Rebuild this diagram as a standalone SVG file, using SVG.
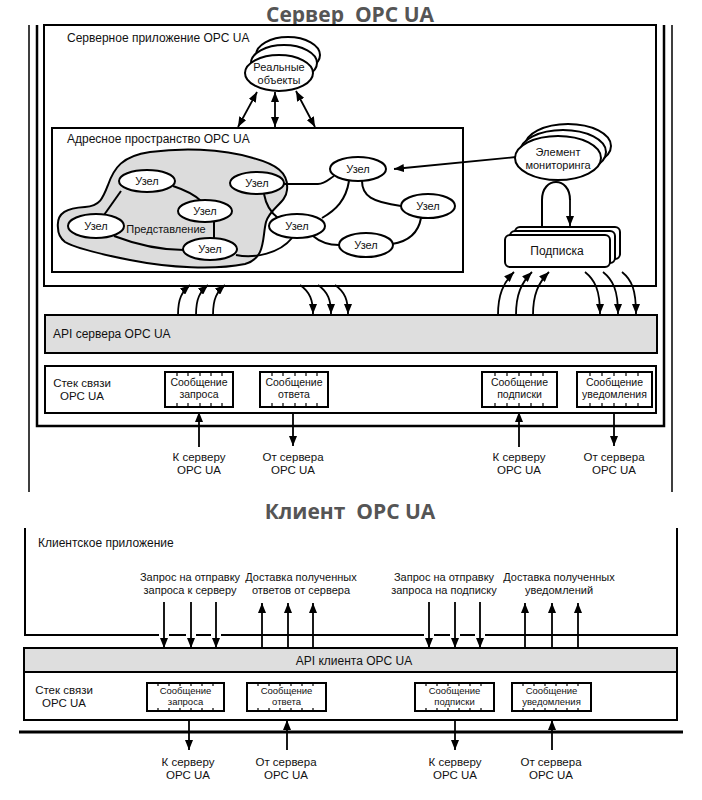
<svg xmlns="http://www.w3.org/2000/svg" width="702" height="800" viewBox="0 0 702 800">
<defs>
<marker id="ah" viewBox="0 0 10 8" refX="10" refY="4" markerWidth="10" markerHeight="8" orient="auto-start-reverse" markerUnits="userSpaceOnUse"><path d="M0,0 L10,4 L0,8 z" fill="#000"/></marker>
<style>
text{font-family:"Liberation Sans",Arial,sans-serif;fill:#111}
.title{font-family:"Open Sans","DejaVu Sans",sans-serif;font-weight:700;font-size:21px;fill:#555;white-space:pre}
.lbl{font-size:12px}
.lb2{font-size:11.5px}
.sm{font-size:11px}
.ms{font-size:10.5px}
.xs{font-size:9.5px}
.c{text-anchor:middle}
.box{fill:#fff;stroke:#000;stroke-width:2}
.gray{fill:#dedede;stroke:#000;stroke-width:2}
.node{fill:#fff;stroke:#000;stroke-width:2}
.ln{fill:none;stroke:#000;stroke-width:2}
.thin{fill:none;stroke:#000;stroke-width:1.5}
.arr{fill:none;stroke:#000;stroke-width:1.8;marker-end:url(#ah)}
.darr{fill:none;stroke:#000;stroke-width:1.8;marker-end:url(#ah);marker-start:url(#ah)}
.tick{fill:none;stroke:#000;stroke-width:1.2}
</style>
</defs>
<rect x="0" y="0" width="702" height="800" fill="#fff"/>

<!-- Titles -->
<text class="title c" x="350" y="22">Сервер  OPC UA</text>
<text class="title c" x="350" y="519">Клиент  OPC UA</text>

<!-- Server frame -->
<g id="server-frame">
<path class="thin" d="M29,25 V492 M672,25 V492"/>
<path d="M37,25 V426 H664 V25" fill="none" stroke="#000" stroke-width="2.5"/>
</g>

<g id="server-app">
<rect class="box" x="44" y="25" width="612" height="261"/>
<text class="lbl" x="67" y="42">Серверное приложение OPC UA</text>
</g>

<g id="address-space">
<rect class="box" x="52" y="128" width="411" height="144"/>
<text class="lbl" x="67" y="143">Адресное пространство OPC UA</text>
</g>

<g id="view">
<path d="M58,228 C56,212 68,208 85,207 C100,206 103,198 108,185 C114,168 122,156 150,152 C180,148 220,148 253,158 C275,164 289,172 287,190 C286,203 270,208 266,222 C262,238 266,258 245,264 C215,270 170,268 130,260 C100,254 75,248 65,242 C60,238 58,234 58,228 Z" fill="#dcdcdc" stroke="#000" stroke-width="2"/>
<text class="sm c" x="166" y="233">Представление</text>
</g>

<!-- Connectors -->
<g id="connectors">
<path class="ln" d="M173,186 C185,190 195,195 201,201"/>
<path class="ln" d="M121,191 L104,215"/>
<path class="ln" d="M114,236 C140,246 165,250 184,250"/>
<path class="ln" d="M214,222 V239"/>
<path class="ln" d="M236,255 C255,259 280,253 292,238"/>
<path class="ln" d="M264,194 C266,205 270,212 278,218"/>
<path class="ln" d="M284,184 L318,184 C325,184 329,179 334,176"/>
<path class="ln" d="M349,181 C346,200 336,210 322,218"/>
<path class="ln" d="M362,181 C362,196 372,202 401,206"/>
<path class="ln" d="M421,218 C418,235 405,242 392,244"/>
<path class="ln" d="M313,236 C320,242 330,245 339,245"/>
<path class="darr" d="M257,92 L238,127"/>
<path class="darr" d="M275,92 L275,127"/>
<path class="darr" d="M296,91 L315,127"/>
<path class="arr" d="M516,157 L394,169"/>
<path class="ln" d="M542,227 V200 C542,176 570,176 570,200"/>
<path class="arr" d="M570,199 V226"/>
<path class="arr" d="M178,315 C178,298 182,292 190,285"/>
<path class="arr" d="M196,315 C196,298 200,292 208,285"/>
<path class="arr" d="M213,315 C213,298 217,292 225,285"/>
<path class="arr" d="M300,285 C310,292 313,300 313,314"/>
<path class="arr" d="M318,285 C328,292 331,300 331,314"/>
<path class="arr" d="M335,285 C345,292 348,300 348,314"/>
<path class="arr" d="M498,315 C498,295 503,283 514,272"/>
<path class="arr" d="M516,315 C516,295 521,283 532,272"/>
<path class="arr" d="M533,315 C533,295 538,283 549,272"/>
<path class="arr" d="M585,272 C595,280 600,290 600,314"/>
<path class="arr" d="M603,272 C613,280 618,290 618,314"/>
<path class="arr" d="M622,272 C632,280 636,290 636,314"/>
<path class="arr" d="M199,447 V412"/>
<path class="arr" d="M293,407 V446"/>
<path class="arr" d="M519,447 V412"/>
<path class="arr" d="M614,407 V446"/>
<path class="arr" d="M164,602 V648"/>
<path class="arr" d="M191,602 V648"/>
<path class="arr" d="M216,602 V648"/>
<path class="arr" d="M262,648 V603"/>
<path class="arr" d="M288,648 V603"/>
<path class="arr" d="M313,648 V603"/>
<path class="arr" d="M429,602 V648"/>
<path class="arr" d="M455,602 V648"/>
<path class="arr" d="M480,602 V648"/>
<path class="arr" d="M525,648 V603"/>
<path class="arr" d="M552,648 V603"/>
<path class="arr" d="M578,648 V603"/>
<path class="arr" d="M189,711 V750"/>
<path class="arr" d="M287,750 V720"/>
<path class="arr" d="M455,711 V750"/>
<path class="arr" d="M552,750 V720"/>
</g>

<!-- Nodes -->
<g id="node-a"><ellipse class="node" cx="147" cy="181" rx="28" ry="11"/><text class="sm c" x="147" y="185">Узел</text></g>
<g id="node-b"><ellipse class="node" cx="205" cy="211" rx="27" ry="11"/><text class="sm c" x="205" y="215">Узел</text></g>
<g id="node-c"><ellipse class="node" cx="96" cy="226" rx="28" ry="12"/><text class="sm c" x="96" y="230">Узел</text></g>
<g id="node-d"><ellipse class="node" cx="210" cy="249" rx="27" ry="11"/><text class="sm c" x="210" y="253">Узел</text></g>
<g id="node-e"><ellipse class="node" cx="257" cy="183" rx="27" ry="11"/><text class="sm c" x="257" y="187">Узел</text></g>
<g id="node-f"><ellipse class="node" cx="358" cy="169" rx="28" ry="12"/><text class="sm c" x="358" y="173">Узел</text></g>
<g id="node-g"><ellipse class="node" cx="428" cy="206" rx="27" ry="12"/><text class="sm c" x="428" y="210">Узел</text></g>
<g id="node-h"><ellipse class="node" cx="297" cy="226" rx="28" ry="12"/><text class="sm c" x="297" y="230">Узел</text></g>
<g id="node-i"><ellipse class="node" cx="366" cy="245" rx="27" ry="12"/><text class="sm c" x="366" y="249">Узел</text></g>

<g id="real-objects">
<ellipse class="node" cx="288" cy="55" rx="32" ry="18"/>
<ellipse class="node" cx="284" cy="63" rx="33" ry="18"/>
<ellipse class="node" cx="279" cy="73" rx="34" ry="18"/>
<text class="sm c" x="279" y="71">Реальные</text>
<text class="sm c" x="279" y="84">объекты</text>
</g>

<g id="monitoring-item">
<ellipse class="node" cx="568" cy="146" rx="43" ry="22"/>
<ellipse class="node" cx="563" cy="152" rx="43" ry="22"/>
<ellipse class="node" cx="558" cy="158" rx="43" ry="22"/>
<text class="sm c" x="558" y="156">Элемент</text>
<text class="sm c" x="558" y="169">мониторинга</text>
</g>

<g id="subscription">
<rect class="node" x="515" y="227" width="105" height="32" rx="5"/>
<rect class="node" x="510" y="231" width="105" height="32" rx="5"/>
<rect class="node" x="505" y="235" width="105" height="32" rx="5"/>
<text class="lbl c" x="557" y="255">Подписка</text>
</g>

<g id="server-api">
<rect class="gray" x="45" y="315" width="612" height="38"/>
<text class="lbl" x="53" y="338">API сервера OPC UA</text>
</g>

<g id="server-stack">
<rect class="box" x="45" y="366" width="611" height="47"/>
<text class="lb2 c" x="82" y="387">Стек связи</text>
<text class="lb2 c" x="82" y="400">OPC UA</text>
</g>

<g id="srv-msg-request">
<rect class="box" x="165" y="372" width="68" height="35"/>
<path class="tick" d="M177,372v4M188,372v4M200,372v4M211,372v4M222,372v4M177,407v-4M188,407v-4M200,407v-4M211,407v-4M222,407v-4"/>
<text class="ms c" x="199" y="386">Сообщение</text>
<text class="ms c" x="199" y="398">запроса</text>
</g>
<g id="srv-msg-response">
<rect class="box" x="260" y="372" width="68" height="35"/>
<path class="tick" d="M272,372v4M283,372v4M295,372v4M306,372v4M317,372v4M272,407v-4M283,407v-4M295,407v-4M306,407v-4M317,407v-4"/>
<text class="ms c" x="294" y="386">Сообщение</text>
<text class="ms c" x="294" y="398">ответа</text>
</g>
<g id="srv-msg-subscription">
<rect class="box" x="482" y="372" width="75" height="35"/>
<path class="tick" d="M495,372v4M507,372v4M519,372v4M531,372v4M543,372v4M495,407v-4M507,407v-4M519,407v-4M531,407v-4M543,407v-4"/>
<text class="ms c" x="519.5" y="386">Сообщение</text>
<text class="ms c" x="519.5" y="398">подписки</text>
</g>
<g id="srv-msg-notification">
<rect class="box" x="577" y="372" width="75" height="35"/>
<path class="tick" d="M590,372v4M602,372v4M614,372v4M626,372v4M638,372v4M590,407v-4M602,407v-4M614,407v-4M626,407v-4M638,407v-4"/>
<text class="ms c" x="614.5" y="386">Сообщение</text>
<text class="ms c" x="614.5" y="398">уведомления</text>
</g>

<g id="srv-ext-labels">
<text class="lb2 c" x="199" y="461">К серверу</text>
<text class="lb2 c" x="199" y="474">OPC UA</text>
<text class="lb2 c" x="293" y="461">От сервера</text>
<text class="lb2 c" x="293" y="474">OPC UA</text>
<text class="lb2 c" x="519" y="461">К серверу</text>
<text class="lb2 c" x="519" y="474">OPC UA</text>
<text class="lb2 c" x="614" y="461">От сервера</text>
<text class="lb2 c" x="614" y="474">OPC UA</text>
</g>

<!-- Client -->
<g id="client-app">
<path class="ln" d="M25,528 V635 H159 M169,635 H186 M196,635 H211 M221,635 H424 M434,635 H450 M460,635 H475 M485,635 H677 V528"/>
<text class="lbl" x="38" y="547">Клиентское приложение</text>
<text class="sm c" x="190" y="581">Запрос на отправку</text>
<text class="sm c" x="190" y="594">запроса к серверу</text>
<text class="sm c" x="301" y="581">Доставка полученных</text>
<text class="sm c" x="301" y="594">ответов от сервера</text>
<text class="sm c" x="444" y="581">Запрос на отправку</text>
<text class="sm c" x="444" y="594">запроса на подписку</text>
<text class="sm c" x="559" y="581">Доставка полученных</text>
<text class="sm c" x="559" y="594">уведомлений</text>
</g>

<g id="client-api">
<rect class="gray" x="24" y="648" width="653" height="24"/>
<text class="lbl c" x="354" y="665">API клиента OPC UA</text>
</g>

<g id="client-stack">
<rect class="box" x="24" y="672" width="653" height="48"/>
<text class="lb2 c" x="64" y="694">Стек связи</text>
<text class="lb2 c" x="64" y="707">OPC UA</text>
</g>

<g id="cli-msg-request">
<rect class="box" x="147" y="683" width="77" height="28"/>
<path class="tick" d="M158,683v3M169,683v3M180,683v3M191,683v3M202,683v3M213,683v3M158,711v-3M169,711v-3M180,711v-3M191,711v-3M202,711v-3M213,711v-3"/>
<text class="xs c" x="185.5" y="694">Сообщение</text>
<text class="xs c" x="185.5" y="705">запроса</text>
</g>
<g id="cli-msg-response">
<rect class="box" x="247" y="683" width="79" height="28"/>
<path class="tick" d="M258,683v3M269,683v3M280,683v3M291,683v3M302,683v3M313,683v3M258,711v-3M269,711v-3M280,711v-3M291,711v-3M302,711v-3M313,711v-3"/>
<text class="xs c" x="286.5" y="694">Сообщение</text>
<text class="xs c" x="286.5" y="705">ответа</text>
</g>
<g id="cli-msg-subscription">
<rect class="box" x="415" y="683" width="79" height="28"/>
<path class="tick" d="M426,683v3M437,683v3M448,683v3M459,683v3M470,683v3M481,683v3M426,711v-3M437,711v-3M448,711v-3M459,711v-3M470,711v-3M481,711v-3"/>
<text class="xs c" x="454.5" y="694">Сообщение</text>
<text class="xs c" x="454.5" y="705">подписки</text>
</g>
<g id="cli-msg-notification">
<rect class="box" x="512" y="683" width="79" height="28"/>
<path class="tick" d="M523,683v3M534,683v3M545,683v3M556,683v3M567,683v3M578,683v3M523,711v-3M534,711v-3M545,711v-3M556,711v-3M567,711v-3M578,711v-3"/>
<text class="xs c" x="551.5" y="694">Сообщение</text>
<text class="xs c" x="551.5" y="705">уведомления</text>
</g>

<g id="client-boundary">
<path d="M19,732 H683" stroke="#000" stroke-width="3" fill="none"/>
</g>

<g id="cli-ext-labels">
<text class="lb2 c" x="188" y="766">К серверу</text>
<text class="lb2 c" x="188" y="779">OPC UA</text>
<text class="lb2 c" x="286" y="766">От сервера</text>
<text class="lb2 c" x="286" y="779">OPC UA</text>
<text class="lb2 c" x="455" y="766">К серверу</text>
<text class="lb2 c" x="455" y="779">OPC UA</text>
<text class="lb2 c" x="551" y="766">От сервера</text>
<text class="lb2 c" x="551" y="779">OPC UA</text>
</g>
</svg>
